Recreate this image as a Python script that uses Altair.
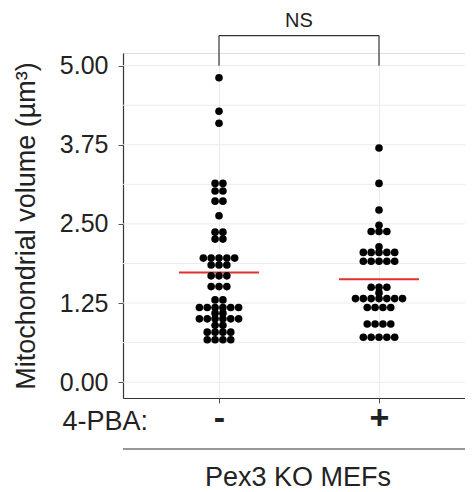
import altair as alt
import pandas as pd

# ---- data ----
group_codes = [1, 2]
group_labels = ["-", "+"]

minus_pba = [4.81, 4.28, 4.09,
             3.14, 3.14, 3.02, 3.02, 2.86, 2.86, 2.63,
             2.37, 2.37, 2.26, 2.26,
             1.96, 1.96, 1.96, 1.96, 1.96,
             1.85, 1.85, 1.85,
             1.68, 1.68, 1.68,
             1.51, 1.51, 1.51,
             1.30, 1.30,
             1.18, 1.18, 1.18, 1.18, 1.18, 1.18,
             1.09, 1.09,
             1.00, 1.00, 1.00, 1.00, 1.00, 1.00,
             0.90, 0.90,
             0.79, 0.79, 0.79, 0.79,
             0.67, 0.67, 0.67, 0.67]

plus_pba = [3.70, 3.14, 2.72, 2.48,
            2.38, 2.38, 2.38,
            2.14,
            2.05, 2.05, 2.05, 2.05, 2.05,
            1.91, 1.91, 1.91, 1.91, 1.91,
            1.50, 1.50, 1.50,
            1.41,
            1.32, 1.32, 1.32, 1.32, 1.32, 1.32, 1.32,
            1.18, 1.18, 1.18, 1.18,
            0.92, 0.92, 0.92, 0.92,
            0.71, 0.71, 0.71, 0.71, 0.71]

y_ticks = [0.0, 1.25, 2.5, 3.75, 5.0]
y_minor = [0.625, 1.875, 3.125, 4.375]
sig_label = "NS"
treatment_label = "4-PBA:"
cell_label = "Pex3 KO MEFs"
y_title = "Mitochondrial volume (µm³)"

df = pd.DataFrame({
    "group": [group_codes[0]] * len(minus_pba) + [group_codes[1]] * len(plus_pba),
    "value": minus_pba + plus_pba,
})

FONT = "Liberation Sans"
W, H = 342, 345
dot_step = 0.049

xscale = alt.Scale(domain=[0.4, 2.5375], nice=False, zero=False)
yscale = alt.Scale(domain=[-0.25, 5.2], nice=False, zero=False)

label_expr = f"datum.value == {group_codes[0]} ? '{group_labels[0]}' : '{group_labels[1]}'"

xaxis = alt.Axis(values=group_codes, labelExpr=label_expr, title="",
                 grid=True, gridColor="#ebebeb", gridWidth=1,
                 domainColor="#333333", domainWidth=1.2,
                 tickColor="#555555", tickSize=5,
                 labelFontSize=34, labelFontWeight="bold", labelColor="#222222",
                 labelBaseline="middle", labelPadding=15, labelFont=FONT)

yaxis = alt.Axis(values=y_ticks, format=".2f", title=y_title, grid=False,
                 domainColor="#333333", domainWidth=1.2,
                 tickColor="#555555", tickSize=5,
                 labelFontSize=25, labelColor="#222222", labelPadding=10, labelFont=FONT,
                 titleFontSize=27, titleFontWeight="normal", titleColor="#222222",
                 titleFont=FONT, titlePadding=19)


def X(field):
    return alt.X(field, scale=xscale, axis=xaxis)


def Y(field):
    return alt.Y(field, scale=yscale, axis=yaxis)


grid_df = pd.DataFrame({"v": y_ticks + y_minor})
grid = alt.Chart(grid_df).mark_rule(color="#ebebeb", strokeWidth=1).encode(
    y=Y("v:Q")
)

base = alt.Chart(df)

means = base.transform_aggregate(
    m="mean(value)", groupby=["group"]
).transform_calculate(
    xa="datum.group - 0.25", xb="datum.group + 0.25"
).mark_rule(color="#e0302f", strokeWidth=2).encode(
    x=X("xa:Q"),
    x2="xb:Q",
    y=Y("m:Q"),
)

points = base.transform_joinaggregate(
    n="count()", groupby=["group", "value"]
).transform_window(
    rn="row_number()", groupby=["group", "value"]
).transform_calculate(
    xpos=f"datum.group + (datum.rn - 1 - (datum.n - 1) / 2) * {dot_step}"
).mark_circle(size=58, color="black", opacity=1).encode(
    x=X("xpos:Q"),
    y=Y("value:Q"),
)

bracket_df = pd.DataFrame({"g": group_codes, "lo": [5.0, 5.0], "hi": [5.475, 5.475]})
bracket_v = alt.Chart(bracket_df).mark_rule(color="#333333", strokeWidth=1.2).encode(
    x=X("g:Q"),
    y=Y("lo:Q"),
    y2="hi:Q",
)
bracket_h_df = pd.DataFrame({"a": [group_codes[0]], "b": [group_codes[1]], "h": [5.475]})
bracket_h = alt.Chart(bracket_h_df).mark_rule(color="#333333", strokeWidth=1.2).encode(
    x=X("a:Q"),
    x2="b:Q",
    y=Y("h:Q"),
)
ns_df = pd.DataFrame({"x": [1.5], "y": [5.70], "t": [sig_label]})
ns_text = alt.Chart(ns_df).mark_text(fontSize=20, font=FONT, color="#222222",
                                      baseline="middle", align="center").encode(
    x=X("x:Q"),
    y=Y("y:Q"),
    text="t:N",
)

deco_df = pd.DataFrame({"t": [treatment_label]})
treat_text = alt.Chart(deco_df).mark_text(fontSize=27, font=FONT, color="#222222",
                                          align="right", baseline="middle").encode(
    x=alt.value(25), y=alt.value(369), text="t:N"
)
cell_df = pd.DataFrame({"t": [cell_label]})
cell_text = alt.Chart(cell_df).mark_text(fontSize=27, font=FONT, color="#222222",
                                         align="center", baseline="middle").encode(
    x=alt.value(175), y=alt.value(425), text="t:N"
)
under_line = alt.Chart(cell_df).mark_rule(color="#333333", strokeWidth=1.2).encode(
    x=alt.value(0), x2=alt.value(W), y=alt.value(396)
)

chart = alt.layer(
    grid, means, points, bracket_v, bracket_h, ns_text, treat_text, under_line, cell_text
).properties(
    width=W, height=H,
    autosize=alt.AutoSizeParams(type="none"),
    padding={"left": 115, "top": 45, "right": 0, "bottom": 100},
).configure_view(strokeWidth=0).configure(font=FONT)

chart.save("out.html", embed_options={"renderer": "svg", "actions": False})
